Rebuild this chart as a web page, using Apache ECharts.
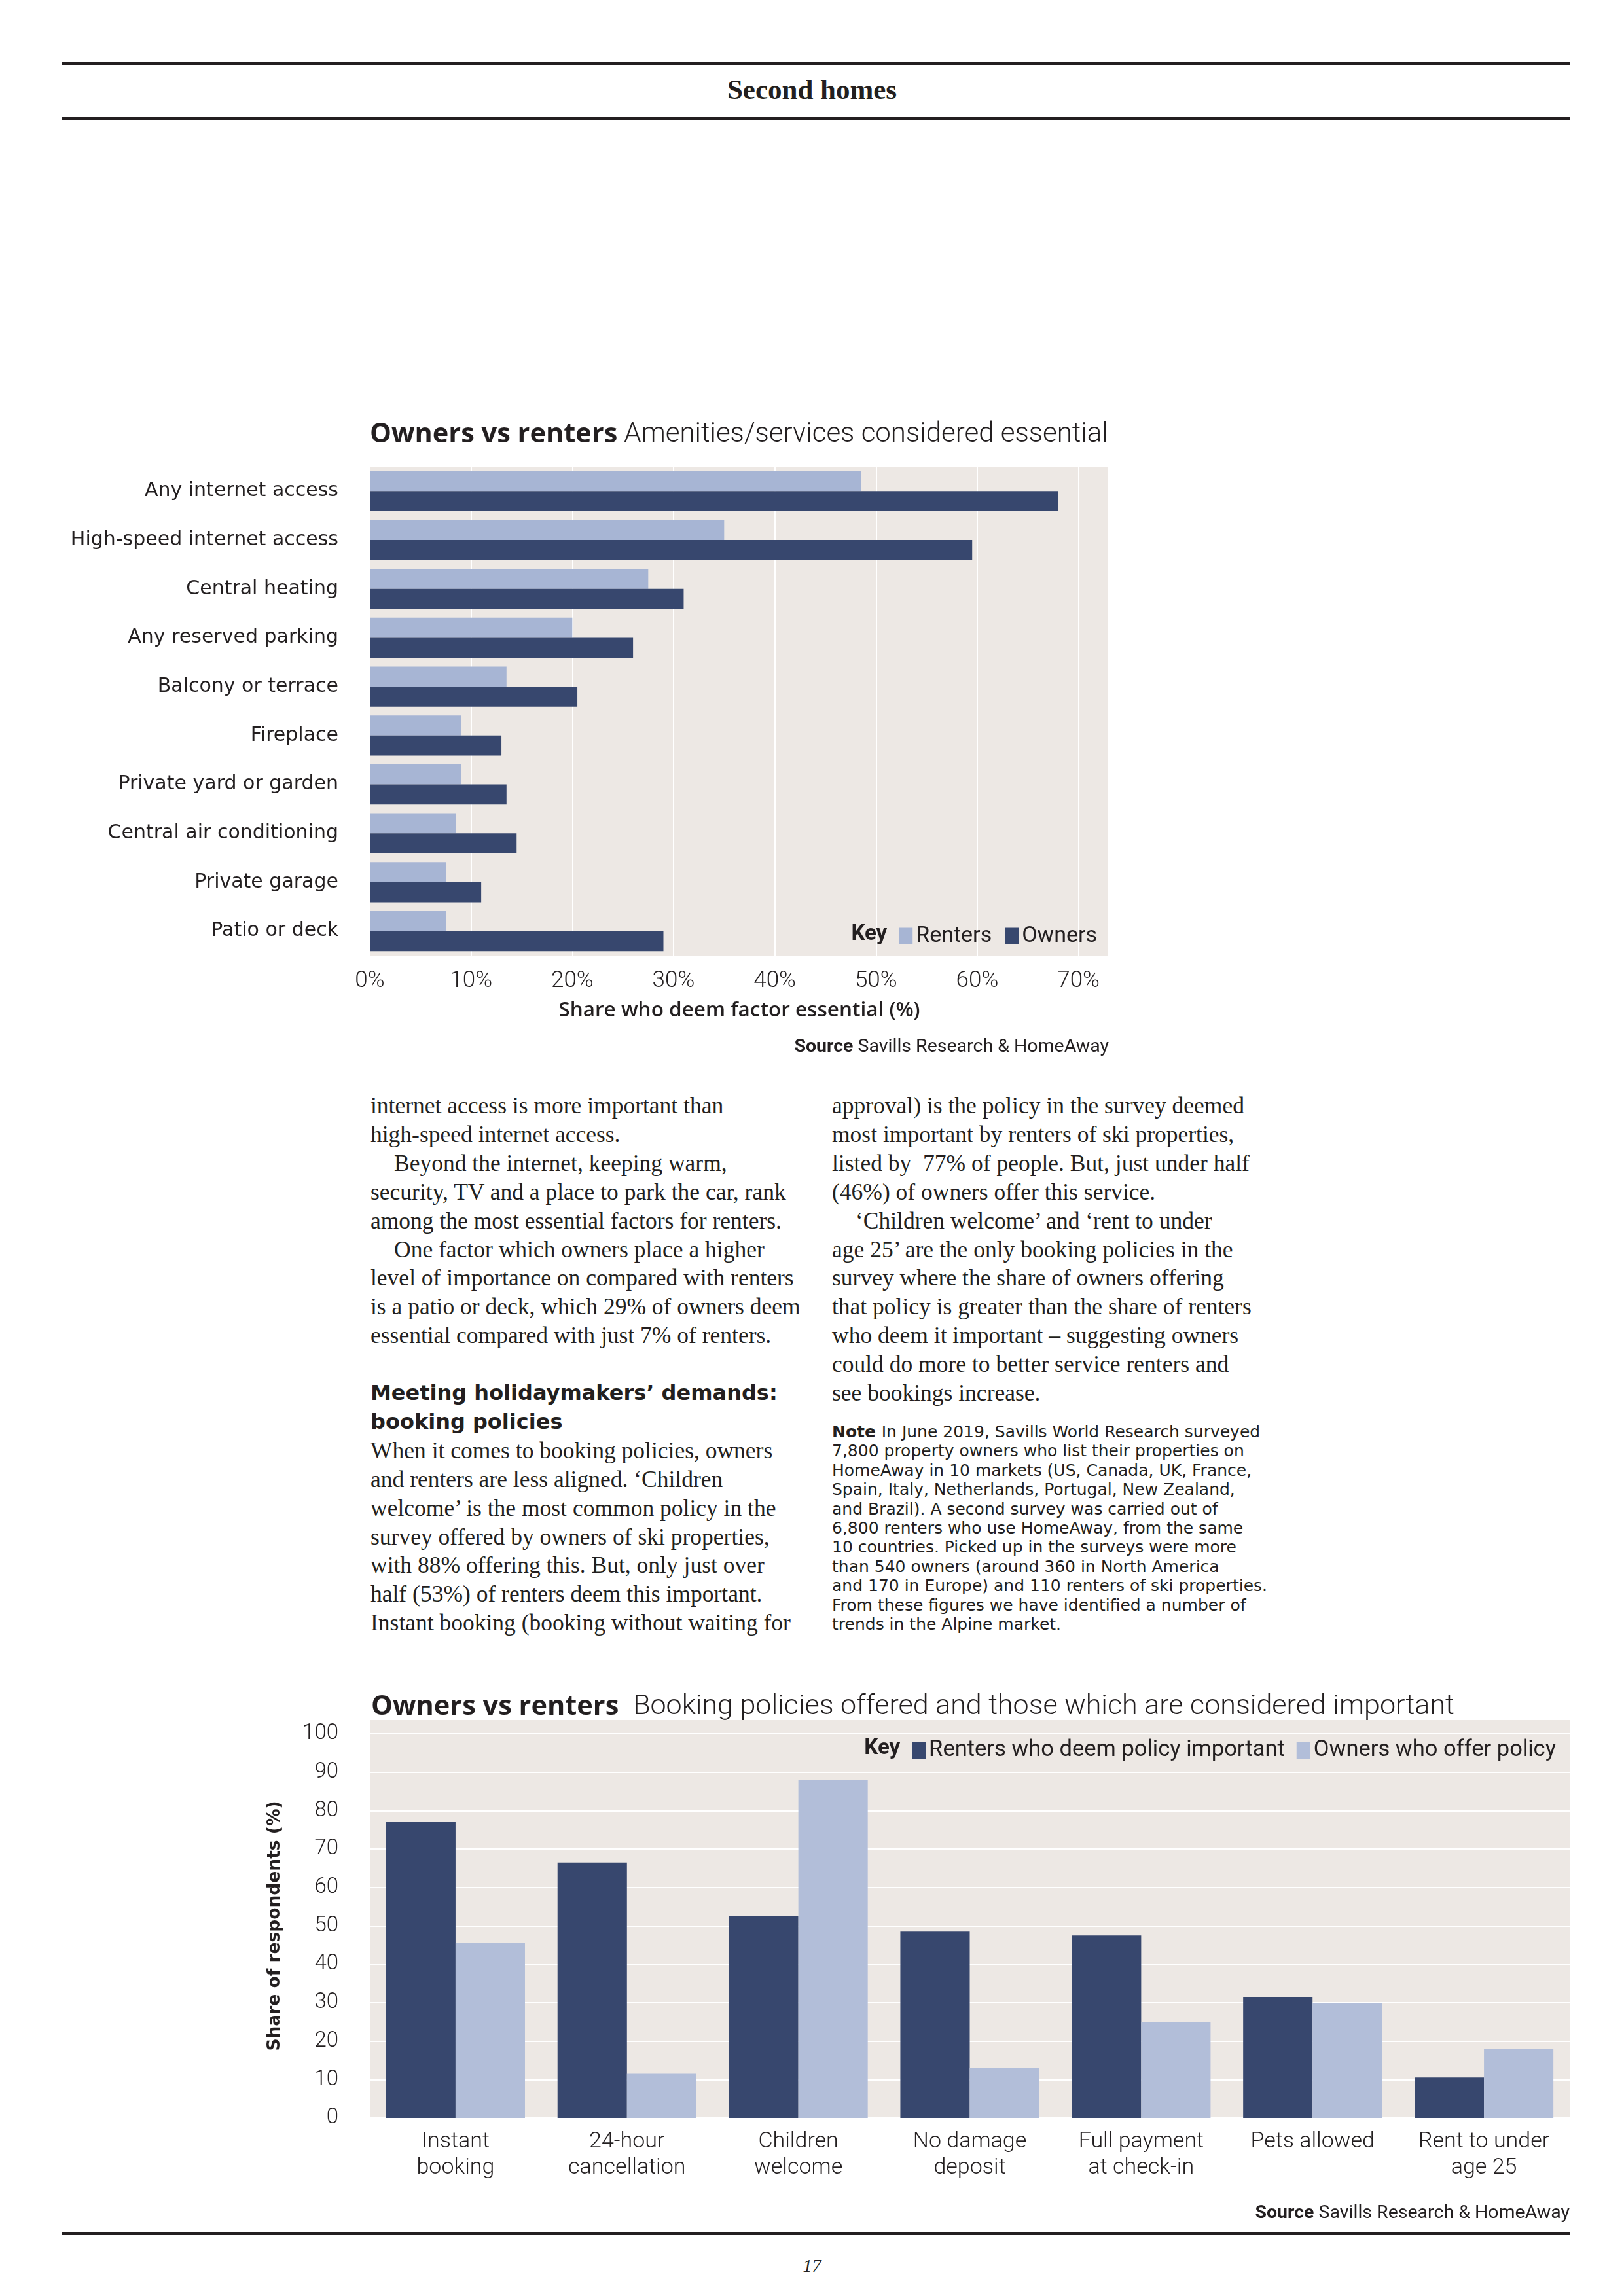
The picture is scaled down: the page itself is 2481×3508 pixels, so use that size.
<!DOCTYPE html>
<html><head><meta charset="utf-8">
<script src="https://cdn.jsdelivr.net/npm/echarts@6/dist/echarts.min.js"></script>
<style>
html,body{margin:0;padding:0;background:#fff;}
#page{position:relative;width:2481px;height:3508px;overflow:hidden;background:#fff;}
.rule{position:absolute;left:94px;width:2304px;height:5px;background:#231f20;}
.ln{position:absolute;white-space:pre;height:44px;line-height:44px;color:#231f20;}
.serif{font-family:"Liberation Serif","DejaVu Serif",serif;font-size:35.5px;}
.head{font-family:"DejaVu Sans",sans-serif;font-weight:700;font-size:32px;}
.note{font-family:"DejaVu Sans",sans-serif;font-size:25px;height:30px;line-height:30px;}
#chart1{position:absolute;left:0;top:600px;width:2481px;height:1060px;}
#chart2{position:absolute;left:0;top:2550px;width:2481px;height:880px;}
</style></head>
<body><div id="page">
<div class="rule" style="top:95px"></div>
<div style="position:absolute;left:0;width:2481px;top:111px;height:52px;line-height:52px;text-align:center;font-family:'Liberation Serif',serif;font-weight:700;font-size:43px;color:#231f20;">Second homes</div>
<div class="rule" style="top:178px"></div>
<div id="chart1"></div>
<div id="text"></div>
<div id="chart2"></div>
<div class="rule" style="top:3410px"></div>
<div style="position:absolute;left:0;width:2481px;top:3445px;height:34px;line-height:34px;text-align:center;font-family:'Liberation Serif',serif;font-style:italic;font-size:28px;color:#231f20;">17</div>
</div>
<script>
// ---------- Data ----------
const amenityCategories = ['Any internet access','High-speed internet access','Central heating','Any reserved parking','Balcony or terrace','Fireplace','Private yard or garden','Central air conditioning','Private garage','Patio or deck'];
const amenityRenters = [48.5, 35, 27.5, 20, 13.5, 9, 9, 8.5, 7.5, 7.5];
const amenityOwners  = [68, 59.5, 31, 26, 20.5, 13, 13.5, 14.5, 11, 29];
const amenityAxisMax = 73;
const amenityAxisStep = 10;

const policyCategories = ['Instant\nbooking','24-hour\ncancellation','Children\nwelcome','No damage\ndeposit','Full payment\nat check-in','Pets allowed','Rent to under\nage 25'];
const policyRenters = [77, 66.5, 52.5, 48.5, 47.5, 31.5, 10.5];
const policyOwners  = [45.5, 11.5, 88, 13, 25, 30, 18];
const policyAxisMax = 100;
const policyAxisStep = 10;

// ---------- Body text ----------
const leftCol = [
 ['t','internet access is more important than'],
 ['t','high-speed internet access.'],
 ['i','Beyond the internet, keeping warm,'],
 ['t','security, TV and a place to park the car, rank'],
 ['t','among the most essential factors for renters.'],
 ['i','One factor which owners place a higher'],
 ['t','level of importance on compared with renters'],
 ['t','is a patio or deck, which 29% of owners deem'],
 ['t','essential compared with just 7% of renters.'],
 ['b',''],
 ['h','Meeting holidaymakers’ demands:'],
 ['h','booking policies'],
 ['t','When it comes to booking policies, owners'],
 ['t','and renters are less aligned. ‘Children'],
 ['t','welcome’ is the most common policy in the'],
 ['t','survey offered by owners of ski properties,'],
 ['t','with 88% offering this. But, only just over'],
 ['t','half (53%) of renters deem this important.'],
 ['t','Instant booking (booking without waiting for']
];
const rightCol = [
 ['t','approval) is the policy in the survey deemed'],
 ['t','most important by renters of ski properties,'],
 ['t','listed by  77% of people. But, just under half'],
 ['t','(46%) of owners offer this service.'],
 ['i','‘Children welcome’ and ‘rent to under'],
 ['t','age 25’ are the only booking policies in the'],
 ['t','survey where the share of owners offering'],
 ['t','that policy is greater than the share of renters'],
 ['t','who deem it important – suggesting owners'],
 ['t','could do more to better service renters and'],
 ['t','see bookings increase.']
];
const noteLines = [
 'In June 2019, Savills World Research surveyed',
 '7,800 property owners who list their properties on',
 'HomeAway in 10 markets (US, Canada, UK, France,',
 'Spain, Italy, Netherlands, Portugal, New Zealand,',
 'and Brazil). A second survey was carried out of',
 '6,800 renters who use HomeAway, from the same',
 '10 countries. Picked up in the surveys were more',
 'than 540 owners (around 360 in North America',
 'and 170 in Europe) and 110 renters of ski properties.',
 'From these figures we have identified a number of',
 'trends in the Alpine market.'
];

(function buildText(){
  const host = document.getElementById('text');
  const top0 = 1667, step = 43.9;
  function col(lines, x){
    lines.forEach((l,i)=>{
      if(l[0]==='b') return;
      const d = document.createElement('div');
      d.className = 'ln ' + (l[0]==='h' ? 'head' : 'serif');
      d.style.left = (x + (l[0]==='i' ? 36 : 0)) + 'px';
      d.style.top = (top0 + step*i) + 'px';
      d.textContent = l[1];
      host.appendChild(d);
    });
  }
  col(leftCol, 566);
  col(rightCol, 1271);
  const nTop = 2173, nStep = 29.4;
  noteLines.forEach((t,i)=>{
    const d = document.createElement('div');
    d.className = 'ln note';
    d.style.left = '1271px';
    d.style.top = (nTop + nStep*i) + 'px';
    if(i===0){
      const b = document.createElement('b'); b.textContent = 'Note '; d.appendChild(b);
      d.appendChild(document.createTextNode(t));
    } else d.textContent = t;
    host.appendChild(d);
  });
})();

// ---------- Helpers ----------
const DARK = '#37476e', LIGHT1 = '#a7b5d4', LIGHT2 = '#b2bed9', BG = '#ede8e4', INK = '#231f20';
const NARROW = 'Roboto', WIDE = 'DejaVu Sans';
const mctx = document.createElement('canvas').getContext('2d');
function tw(text, size, family, weight){ mctx.font = (weight||'normal')+' '+size+'px "'+family+'"'; return mctx.measureText(text).width; }
function legendWidth(names, size, family, iw, gap){
  let w = 0; names.forEach((n,i)=>{ w += iw + 5 + tw(n,size,family); if(i) w += gap; }); return w;
}
function titleRich(sub, lsize){ return {
  b:{fontFamily:'Open Sans',fontWeight:'bold',fontSize:41.5,color:INK},
  s:{fontFamily:NARROW,fontSize:sub,color:INK},
  l:{fontFamily:NARROW,fontWeight:300,fontSize:lsize,color:INK}
};}

// ---------- Chart 1 ----------
const c1 = echarts.init(document.getElementById('chart1'), null, {renderer:'canvas'});
const l1Names = ['Renters','Owners'];
const l1Right = 805, l1Size = 34, l1IW = 21, l1Gap = 20;
const l1W = legendWidth(l1Names, l1Size, NARROW, l1IW, l1Gap);
c1.setOption({
  animation:false,
  textStyle:{fontFamily:NARROW, color:INK},
  title:[
    {left:565, top:43, padding:0, text:'{b|Owners vs renters}{s| }{l|Amenities/services considered essential}', textStyle:{rich:titleRich(40, 42)}},
    {right:l1Right + l1W + 18, top:811, padding:0, text:'Key', textStyle:{fontFamily:NARROW,fontWeight:'bold',fontSize:33,color:INK}},
    {right:787, top:985, padding:0, text:'{b|Source} Savills Research & HomeAway',
     textStyle:{fontFamily:NARROW,fontWeight:'normal',fontSize:28.5,color:INK,rich:{b:{fontFamily:NARROW,fontWeight:'bold',fontSize:28.5,color:INK}}}}
  ],
  legend:{right:l1Right, top:813, padding:0, itemWidth:l1IW, itemHeight:25, itemGap:l1Gap, icon:'rect',
    data:l1Names, textStyle:{fontFamily:NARROW, fontSize:l1Size, color:INK}},
  grid:{left:565, top:113, width:1129, height:747, show:true, backgroundColor:BG, borderWidth:0},
  xAxis:{type:'value', min:0, max:amenityAxisMax, interval:amenityAxisStep,
    axisLine:{show:false}, axisTick:{show:false},
    splitLine:{show:true, lineStyle:{color:'#ffffff', width:2}},
    axisLabel:{margin:22, fontFamily:NARROW, fontWeight:300, fontSize:35, color:INK,
      formatter:v => (v % amenityAxisStep === 0 ? v + '%' : '')},
    name:'Share who deem factor essential (%)', nameLocation:'middle', nameGap:68,
    nameTextStyle:{fontFamily:'Open Sans', fontWeight:600, fontSize:31.5, color:INK}},
  yAxis:{type:'category', inverse:true, data:amenityCategories,
    axisLine:{show:false}, axisTick:{show:false},
    axisLabel:{margin:48, fontFamily:WIDE, fontSize:30, color:INK}},
  series:[
    {name:'Renters', type:'bar', data:amenityRenters, itemStyle:{color:LIGHT1}, barGap:'0%', barCategoryGap:'18%'},
    {name:'Owners', type:'bar', data:amenityOwners, itemStyle:{color:DARK}, barGap:'0%', barCategoryGap:'18%'}
  ]
});

// ---------- Chart 2 ----------
const c2 = echarts.init(document.getElementById('chart2'), null, {renderer:'canvas'});
const l2Names = ['Renters who deem policy important','Owners who offer policy'];
const l2Right = 104, l2Size = 34.5, l2IW = 21, l2Gap = 18;
const l2W = legendWidth(l2Names, l2Size, NARROW, l2IW, l2Gap);
const g2 = {left:565, top:99, width:1833, height:587};
c2.setOption({
  animation:false,
  textStyle:{fontFamily:NARROW, color:INK},
  title:[
    {left:567, top:36, padding:0, text:'{b|Owners vs renters}{s|  }{l|Booking policies offered and those which are considered important}', textStyle:{rich:titleRich(44, 43)}},
    {right:l2Right + l2W + 18, top:105, padding:0, text:'Key', textStyle:{fontFamily:NARROW,fontWeight:'bold',fontSize:33,color:INK}},
    {right:83, top:817, padding:0, text:'{b|Source} Savills Research & HomeAway',
     textStyle:{fontFamily:NARROW,fontWeight:'normal',fontSize:28.5,color:INK,rich:{b:{fontFamily:NARROW,fontWeight:'bold',fontSize:28.5,color:INK}}}}
  ],
  graphic:[{type:'rect', z:-1, shape:{x:g2.left, y:g2.top-21, width:g2.width, height:21}, style:{fill:BG}}],
  legend:{right:l2Right, top:107, padding:0, itemWidth:l2IW, itemHeight:25, itemGap:l2Gap, icon:'rect',
    data:l2Names, textStyle:{fontFamily:NARROW, fontSize:l2Size, color:INK}},
  grid:Object.assign({show:true, backgroundColor:BG, borderWidth:0}, g2),
  xAxis:{type:'category', data:policyCategories,
    axisLine:{show:false}, axisTick:{show:false},
    axisLabel:{interval:0, margin:16, fontFamily:NARROW, fontWeight:300, fontSize:34, lineHeight:40, color:INK}},
  yAxis:{type:'value', min:0, max:policyAxisMax, interval:policyAxisStep,
    axisLine:{show:false}, axisTick:{show:false},
    splitLine:{show:true, lineStyle:{color:'#ffffff', width:2}},
    axisLabel:{margin:48, fontFamily:NARROW, fontWeight:300, fontSize:33, color:INK},
    name:'Share of respondents (%)', nameLocation:'middle', nameGap:131,
    nameTextStyle:{fontFamily:WIDE, fontWeight:'bold', fontSize:26.5, color:INK}},
  series:[
    {name:l2Names[0], type:'bar', data:policyRenters, itemStyle:{color:DARK}, barGap:'0%', barCategoryGap:'19%'},
    {name:l2Names[1], type:'bar', data:policyOwners, itemStyle:{color:LIGHT2}, barGap:'0%', barCategoryGap:'19%'}
  ]
});
</script>
</body></html>
